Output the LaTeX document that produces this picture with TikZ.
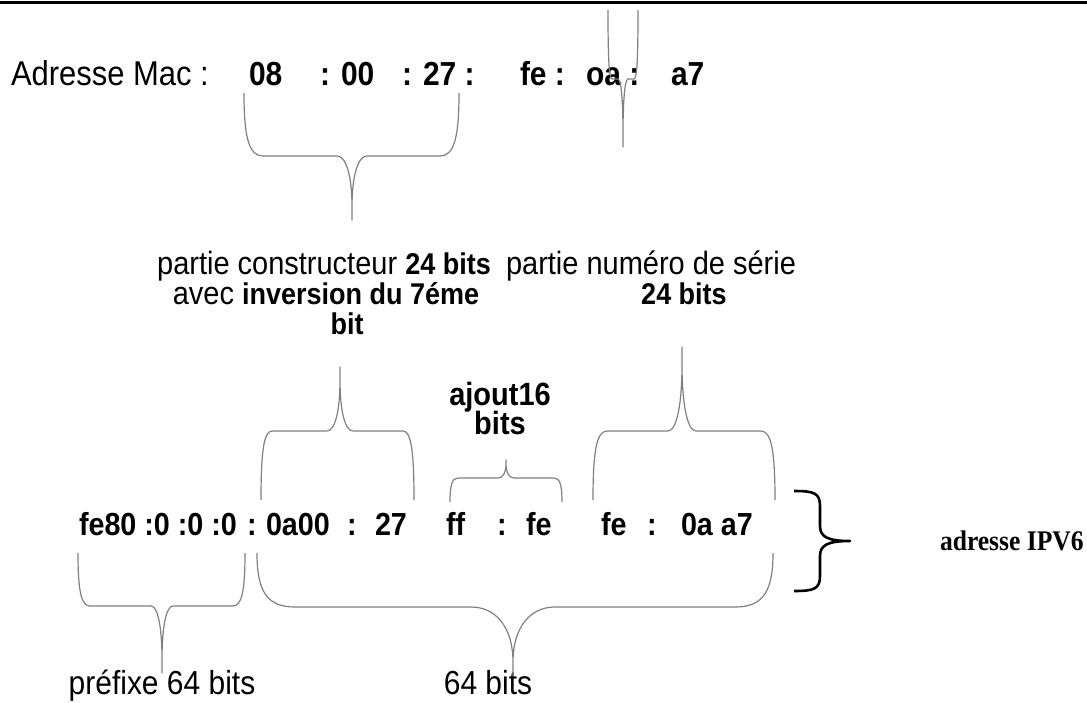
\documentclass[tikz,border=0pt]{standalone}
\usepackage{fontspec}
\setmainfont{Liberation Sans}[FakeStretch=0.9]
\newfontfamily\tnr{Liberation Serif}[FakeStretch=0.9]
\definecolor{bgray}{RGB}{128,128,128}
\newcommand\bracedrawx[8]{%
 \draw[br] (#1,#3) .. controls (#1,{#3+0.7*(#4-#3)}) and ({#1+0.25*#7},#4) .. ({#1+#7},#4)
 -- ({#5-#8},#4) .. controls ({#5-0.4*#8},#4) and (#5,{#4+0.3*(#6-#4)}) .. (#5,{#4+0.8*(#6-#4)})
 -- (#5,#6) -- (#5,{#4+0.8*(#6-#4)}) .. controls (#5,{#4+0.3*(#6-#4)}) and ({#5+0.4*#8},#4) .. ({#5+#8},#4)
 -- ({#2-#7},#4) .. controls ({#2-0.25*#7},#4) and (#2,{#3+0.7*(#4-#3)}) .. (#2,#3);}
\newcommand\lbold[1]{{\fontsize{30}{32}\selectfont\bfseries #1}}
\tikzset{
 br/.style={draw=bgray, line width=1.2pt, line join=round},
 txt/.style={inner sep=0pt, outer sep=0pt},
 macreg/.style={txt, font=\fontsize{34.4}{36}\selectfont},
 macbld/.style={txt, font=\fontsize{33.3}{36}\selectfont\bfseries},
 lab/.style={txt, font=\fontsize{32.2}{34}\selectfont},
 labbld/.style={txt, font=\fontsize{30}{32}\selectfont\bfseries},
 ajb/.style={txt, font=\fontsize{32.2}{34}\selectfont\bfseries},
 ipb/.style={txt, font=\fontsize{31.9}{34}\selectfont\bfseries},
 bot/.style={txt, font=\fontsize{33.3}{36}\selectfont},
 ipv/.style={txt, font=\fontsize{28.4}{30}\selectfont\tnr\bfseries},
}
\begin{document}
\begin{tikzpicture}[x=1pt,y=-1pt]
\useasboundingbox (0,0) rectangle (1087,702);
\fill[white] (0,0) rectangle (1087,702);
\draw[line width=2.6pt] (0,2.5) -- (1087,2.5);
% MAC line
\node[macreg, anchor=base west] (mac) at (11,85) {Adresse Mac :};
\node[macbld, anchor=base west] (m1) at (249,85) {08};
\node[macbld, anchor=base west] (m2) at (320,85) {: 00};
\node[macbld, anchor=base west] (m3) at (402,85) {: 27 :};
\node[macbld, anchor=base west] (m4) at (520,85) {fe :};
\node[macbld, anchor=base west] (m5) at (586,85) {oa :};
\node[macbld, anchor=base west] (m6) at (671,85) {a7};
% middle labels
\node[lab, anchor=base] (c1) at (324,274) {partie constructeur \lbold{24 bits}};
\node[lab, anchor=base] (c2) at (326,304) {avec \lbold{inversion du 7éme}};
\node[labbld, anchor=base] (c3) at (347,334) {bit};
\node[lab, anchor=base] (s1) at (651,274) {partie numéro de série};
\node[labbld, anchor=base] (s2) at (684,304) {24 bits};
\node[ajb, anchor=base] (a1) at (500,405) {ajout16};
\node[ajb, anchor=base] (a2) at (500,434) {bits};
% IPv6 line
\node[ipb, anchor=base west] (i1) at (79,535) {fe80 :0 :0 :0};
\node[ipb, anchor=base west] (i2) at (247,535) {:};
\node[ipb, anchor=base west] (i3) at (266,535) {0a00};
\node[ipb, anchor=base west] (i4) at (347,535) {:};
\node[ipb, anchor=base west] (i5) at (375,535) {27};
\node[ipb, anchor=base west] (i6) at (446,535) {ff};
\node[ipb, anchor=base west] (i7) at (497,535) {:};
\node[ipb, anchor=base west] (i8) at (526,535) {fe};
\node[ipb, anchor=base west] (i9) at (601,535) {fe};
\node[ipb, anchor=base west] (i10) at (647,535) {:};
\node[ipb, anchor=base west] (i11) at (681,535) {0a a7};
\node[ipv, anchor=base west] (ip) at (940,550) {adresse IPV6};
% bottom labels
\node[bot, anchor=base] (p1) at (162,694) {préfixe 64 bits};
\node[bot, anchor=base] (p2) at (488,694) {64 bits};
% braces
\bracedrawx{244}{459}{93}{156}{352}{220}{19}{15}
\bracedrawx{608}{638}{10}{79}{623}{147}{4}{5}
\bracedrawx{261}{414}{500}{431}{340}{367}{11}{13}
\bracedrawx{450}{562}{502}{478}{506}{460}{8}{8}
\bracedrawx{593}{775}{500}{431}{682}{347}{14}{14}
\bracedrawx{78}{245}{553}{606}{162}{673}{12}{11}
\bracedrawx{257}{773}{553}{607}{513}{676}{38}{42}
% big black brace
\draw[line width=2.6pt, line join=round] (794,491) .. controls (814,491) and (820,493) .. (820,506)
 -- (820,526) .. controls (820,537) and (828,541) .. (850,541)
 .. controls (828,541) and (820,545) .. (820,556)
 -- (820,576) .. controls (820,589) and (814,591) .. (794,591);
\end{tikzpicture}
\end{document}
